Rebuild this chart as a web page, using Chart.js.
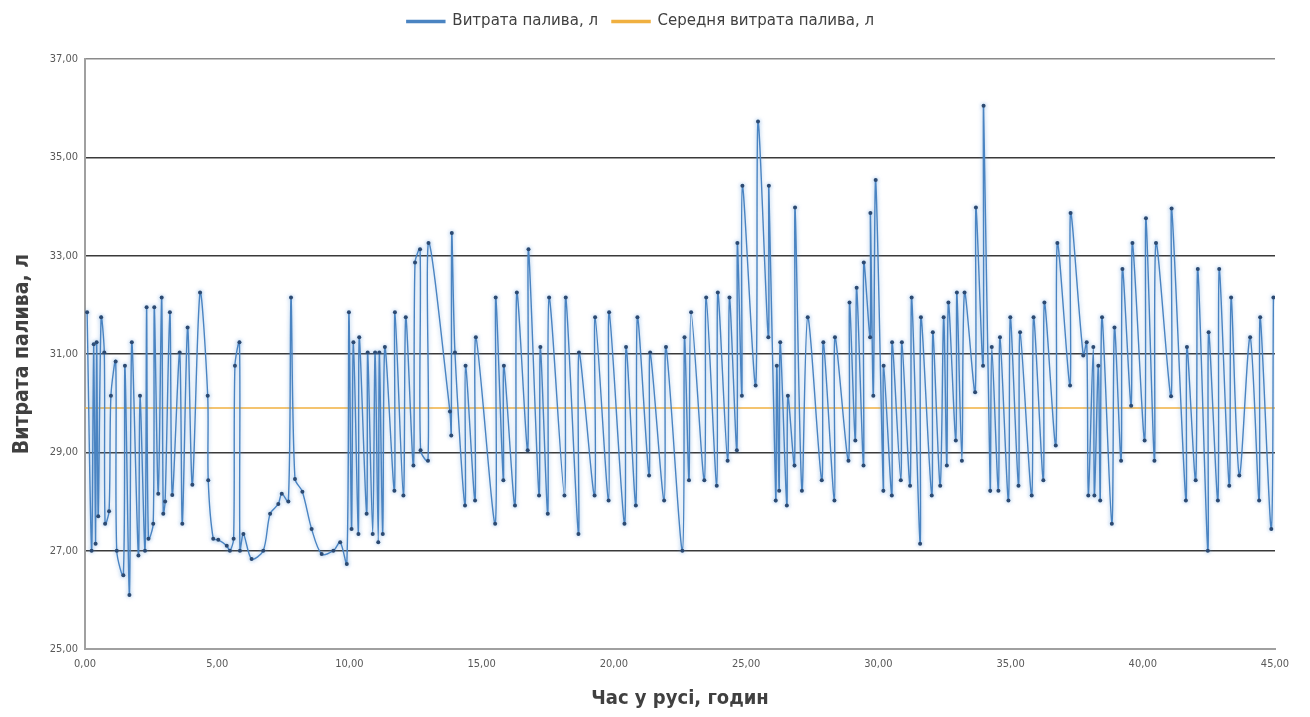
<!DOCTYPE html>
<html><head><meta charset="utf-8">
<script src="https://cdn.jsdelivr.net/npm/chart.js@4.4.1/dist/chart.umd.min.js"></script>
<style>html,body{margin:0;padding:0;background:#fff}#wrap{width:1310px;height:717px;position:relative}</style>
</head><body><div id="wrap"><canvas id="c"></canvas></div>
<script>
const hours = [0.08,0.25,0.33,0.40,0.44,0.50,0.61,0.73,0.76,0.91,0.98,1.16,1.20,1.45,1.51,1.68,1.77,2.02,2.08,2.27,2.33,2.40,2.58,2.62,2.77,2.90,2.96,3.03,3.21,3.30,3.58,3.68,3.88,4.06,4.35,4.64,4.66,4.85,5.04,5.36,5.48,5.62,5.67,5.84,5.86,5.99,6.30,6.74,7.00,7.31,7.44,7.69,7.79,7.94,8.22,8.57,8.95,9.39,9.65,9.90,9.98,10.08,10.15,10.34,10.37,10.65,10.69,10.88,10.97,11.09,11.13,11.26,11.34,11.70,11.72,12.04,12.13,12.42,12.48,12.67,12.69,12.97,12.99,13.80,13.85,13.87,13.99,14.37,14.39,14.75,14.78,15.51,15.53,15.82,15.84,16.26,16.33,16.74,16.77,17.17,17.22,17.50,17.55,18.13,18.18,18.66,18.68,19.27,19.29,19.80,19.82,20.40,20.46,20.83,20.89,21.33,21.37,21.90,21.97,22.59,22.67,22.84,22.92,23.42,23.49,23.89,23.93,24.30,24.37,24.65,24.67,24.84,24.86,25.36,25.45,25.84,25.86,26.12,26.16,26.25,26.29,26.54,26.58,26.83,26.85,27.11,27.33,27.86,27.92,28.34,28.36,28.87,28.91,29.13,29.18,29.44,29.45,29.69,29.70,29.81,29.90,30.19,30.20,30.51,30.52,30.85,30.89,31.20,31.26,31.58,31.61,32.02,32.06,32.34,32.47,32.59,32.65,32.93,32.97,33.16,33.26,33.66,33.69,33.96,33.98,34.23,34.29,34.54,34.60,34.92,34.99,35.30,35.36,35.80,35.87,36.24,36.28,36.71,36.77,37.25,37.27,37.75,37.88,37.94,38.13,38.17,38.32,38.39,38.46,38.83,38.93,39.18,39.23,39.56,39.61,40.07,40.12,40.44,40.50,41.07,41.09,41.63,41.67,42.00,42.08,42.46,42.49,42.84,42.89,43.27,43.34,43.65,44.06,44.40,44.44,44.86,44.94];
const fuel = [31.85,27.0,31.2,27.14,31.24,27.7,31.75,31.03,27.55,27.8,30.15,30.85,27.0,26.5,30.76,26.1,31.24,26.9,30.15,27.0,31.95,27.24,27.55,31.95,28.16,32.15,27.75,28.0,31.85,28.13,31.03,27.55,31.54,28.34,32.25,30.15,28.43,27.24,27.22,27.1,27.0,27.24,30.76,31.24,27.0,27.34,26.83,27.0,27.75,27.95,28.16,28.0,32.15,28.46,28.2,27.44,26.93,27.0,27.17,26.73,31.85,27.44,31.24,27.34,31.34,27.75,31.03,27.34,31.03,27.17,31.03,27.34,31.14,28.22,31.85,28.12,31.75,28.73,32.86,33.13,29.04,28.83,33.26,29.83,29.34,33.46,31.03,27.92,30.76,28.02,31.34,27.55,32.15,28.43,30.76,27.92,32.25,29.04,33.13,28.12,31.14,27.75,32.15,28.12,32.15,27.34,31.03,28.12,31.75,28.02,31.85,27.55,31.14,27.92,31.75,28.53,31.03,28.02,31.14,27.0,31.34,28.43,31.85,28.43,32.15,28.32,32.25,28.83,32.15,29.04,33.26,30.15,34.42,30.36,35.73,31.34,34.42,28.02,30.76,28.22,31.24,27.92,30.15,28.73,33.98,28.22,31.75,28.43,31.24,28.02,31.34,28.83,32.05,29.24,32.35,28.73,32.86,31.34,33.87,30.15,34.54,28.22,30.76,28.12,31.24,28.43,31.24,28.32,32.15,27.14,31.75,28.12,31.44,28.32,31.75,28.73,32.05,29.24,32.25,28.83,32.25,30.22,33.98,30.76,36.05,28.22,31.14,28.22,31.34,28.02,31.75,28.32,31.44,28.12,31.75,28.43,32.05,29.14,33.26,30.36,33.87,30.97,31.24,28.12,31.14,28.12,30.76,28.02,31.75,27.55,31.54,28.83,32.73,29.95,33.26,29.24,33.76,28.83,33.26,30.14,33.96,28.02,31.14,28.43,32.73,27.0,31.44,28.02,32.73,28.32,32.15,28.53,31.34,28.02,31.75,27.44,32.15];
const avgHours = [0, 45];
const avgFuel = [29.9, 29.9];
const xTicks = [0,5,10,15,20,25,30,35,40,45];
const yTicks = [25,27,29,31,33,35,37];

const fmt = v => Number(v).toFixed(2).replace('.', ',');
const mainPts = hours.map((h,i)=>({x:h,y:fuel[i]}));
const avgPts = avgHours.map((h,i)=>({x:h,y:avgFuel[i]}));
const NARROW = '"Liberation Sans Narrow","DejaVu Sans Condensed",sans-serif';

const legendHeight = {
  id:'legendHeight',
  beforeInit(chart){
    const fit = chart.legend.fit;
    chart.legend.fit = function(){ fit.bind(chart.legend)(); this.height = 59; };
  }
};
const glow = {
  id:'glow',
  beforeDatasetDraw(chart,args){
    if(args.index===0){ const c=chart.ctx; c.save(); c.shadowColor='rgba(90,150,215,0.6)'; c.shadowBlur=4; }
  },
  afterDatasetDraw(chart,args){ if(args.index===0){ chart.ctx.restore(); } }
};

new Chart(document.getElementById('c'), {
  type:'scatter',
  data:{datasets:[
    {label:'Витрата палива, л', data:mainPts, showLine:true, tension:0.3,
     borderColor:'#4a84c2', backgroundColor:'#4a84c2', borderWidth:1.4,
     pointRadius:2, pointBackgroundColor:'#2c4a72', pointBorderColor:'#2c4a72', pointBorderWidth:0},
    {label:'Середня витрата палива, л', data:avgPts, showLine:true, tension:0,
     borderColor:'#f0b040', backgroundColor:'#f0b040', borderWidth:1.5, pointRadius:0}
  ]},
  options:{
    responsive:true, maintainAspectRatio:false, animation:false,
    layout:{padding:{left:6,right:35,top:0,bottom:2}},
    plugins:{
      legend:{position:'top', labels:{boxWidth:38, boxHeight:2, padding:14, color:'#404040',
        font:{family:'"DejaVu Sans",sans-serif', size:15}}},
      tooltip:{enabled:false}
    },
    scales:{
      x:{type:'linear', min:0, max:45,
        afterBuildTicks(s){ s.ticks = xTicks.map(v=>({value:v})); },
        afterFit(s){ s.height = 66; },
        ticks:{callback:v=>fmt(v), color:'#595959', maxRotation:0, padding:9,
          font:{family:NARROW, size:11}},
        grid:{display:false, drawTicks:false},
        border:{display:true, color:'#a0a0a0', width:2},
        title:{display:true, text:'Час у русі, годин', color:'#404040', padding:{top:6},
          font:{family:NARROW, size:20, weight:'bold'}}
      },
      y:{min:25, max:37,
        afterBuildTicks(s){ s.ticks = yTicks.map(v=>({value:v})); },
        afterFit(s){ s.width = 79; },
        ticks:{callback:v=>fmt(v), color:'#595959', padding:7,
          font:{family:NARROW, size:11}},
        grid:{drawTicks:false, color:ctx=> (ctx.tick && ctx.tick.value===37) ? '#8a8a8a' : (ctx.tick && ctx.tick.value===25 ? '#a0a0a0' : '#3a3a3a'), lineWidth:1.6},
        border:{display:true, color:'#a0a0a0', width:2},
        title:{display:true, text:'Витрата палива, л', color:'#404040', padding:{bottom:6},
          font:{family:NARROW, size:21, weight:'bold'}}
      }
    }
  },
  plugins:[legendHeight, glow]
});
</script></body></html>
